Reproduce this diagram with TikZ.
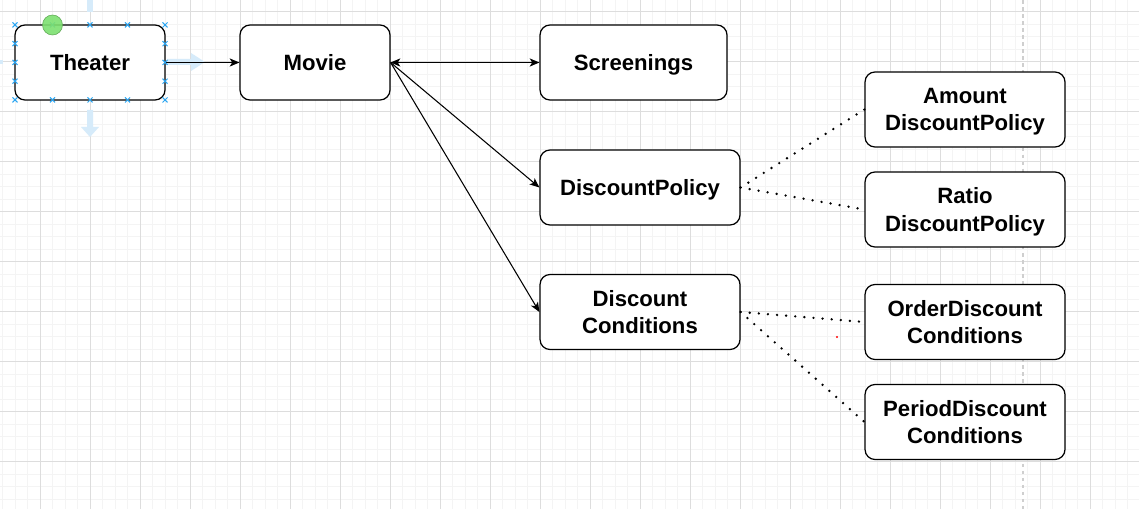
\documentclass[tikz,border=0pt]{standalone}
\usepackage{fontspec}
\setmainfont{Liberation Sans}
\usetikzlibrary{arrows.meta}
\definecolor{gridminor}{HTML}{F4F4F4}
\definecolor{gridmajor}{HTML}{DDDDDD}
\definecolor{hoverblue}{HTML}{D6EBFA}
\definecolor{handleblue}{HTML}{2AA5F2}
\definecolor{selgreen}{HTML}{7DE070}
\tikzset{
    box/.style={draw, rounded corners=0.2cm, line width=0.7pt, fill=white,
      minimum width=4cm, minimum height=1.5cm, inner sep=0pt, align=center,
      text depth=0pt, font=\fontsize{12.6}{15.4}\selectfont\bfseries},
    link/.style={line width=0.6pt},
    dots/.style={line width=1.5pt, line cap=round, dash pattern=on 0pt off 5.2pt},
    handle/.style={handleblue, line width=0.6pt},
  }

\begin{document}
\begin{tikzpicture}[x=0.02cm, y=-0.02cm, >={Stealth[length=5.5pt,width=4.6pt,inset=1.4pt]}]
	%fond quadrille
	\useasboundingbox (0,0) rectangle (1139,509);
	\fill[white] (0,0) rectangle (1139,509);
	\foreach \x in {2.5,15,...,1139} \draw[gridminor, line width=0.5pt] (\x,0) -- (\x,509);
	\foreach \y in {-1,11.5,...,509} \draw[gridminor, line width=0.5pt] (0,\y) -- (1139,\y);
	\foreach \x in {40,90,...,1139} \draw[gridmajor, line width=0.5pt] (\x,0) -- (\x,509);
	\foreach \y in {11.5,61.5,...,509} \draw[gridmajor, line width=0.5pt] (0,\y) -- (1139,\y);
	\draw[gridmajor!85!gray, line width=0.6pt, dash pattern=on 2pt off 2pt] (1023,0) -- (1023,509);
	
	%fleches de survol
	\fill[hoverblue] (167,59) -- (191,59) -- (191,53) -- (205,62) -- (191,71) -- (191,65) -- (167,65) -- cycle;
	\fill[hoverblue] (87,110) -- (87,127) -- (81,127) -- (90,137) -- (99,127) -- (93,127) -- (93,110) -- cycle;
	\fill[hoverblue] (87,0) rectangle (93,12.5);
	\fill[hoverblue] (0,60) rectangle (3,64);
	
	%boites
	\node[box, minimum width=3cm] (theater) at (90,62.5) {Theater};
	\node[box, minimum width=3cm] (movie) at (315,62.5) {Movie};
	\node[box, minimum width=3.74cm] (screenings) at (633.5,62.5) {Screenings};
	\node[box] (policy) at (640,187.5) {DiscountPolicy};
	\node[box] (conditions) at (640,312) {Discount\\Conditions};
	\node[box] (amount) at (965,109.5) {Amount\\DiscountPolicy};
	\node[box] (ratio) at (965,209.5) {Ratio\\DiscountPolicy};
	\node[box] (order) at (965,322) {OrderDiscount\\Conditions};
	\node[box] (period) at (965,422) {PeriodDiscount\\Conditions};
	
	%liens
	\draw[link, ->] (theater.east) -- (movie.west);
	\draw[link, <->] (movie.east) -- (screenings.west);
	\draw[link, ->] (movie.east) -- (policy.west);
	\draw[link, ->] (movie.east) -- (conditions.west);
	\draw[dots] (policy.east) -- (amount.west);
	\draw[dots] (policy.east) -- (ratio.west);
	\draw[dots] (conditions.east) -- (order.west);
	\draw[dots] (conditions.east) -- (period.west);
	
	%selection
	\foreach \x in {15,52.5,90,127.5,165} {
	  \draw[handle] (\x,25) ++(-2.5,-2.5) -- ++(5,5) ++(0,-5) -- ++(-5,5);
	  \draw[handle] (\x,100) ++(-2.5,-2.5) -- ++(5,5) ++(0,-5) -- ++(-5,5);
	}
	\foreach \y in {43.75,62.5,81.25} {
	  \draw[handle] (15,\y) ++(-2.5,-2.5) -- ++(5,5) ++(0,-5) -- ++(-5,5);
	  \draw[handle] (165,\y) ++(-2.5,-2.5) -- ++(5,5) ++(0,-5) -- ++(-5,5);
	}
	\filldraw[fill=selgreen, draw=selgreen!75!black, line width=0.3pt, fill opacity=0.9] (52.5,25) circle[radius=0.2cm];
	\fill[red] (837,337) circle[radius=0.6pt];
\end{tikzpicture}
\end{document}
